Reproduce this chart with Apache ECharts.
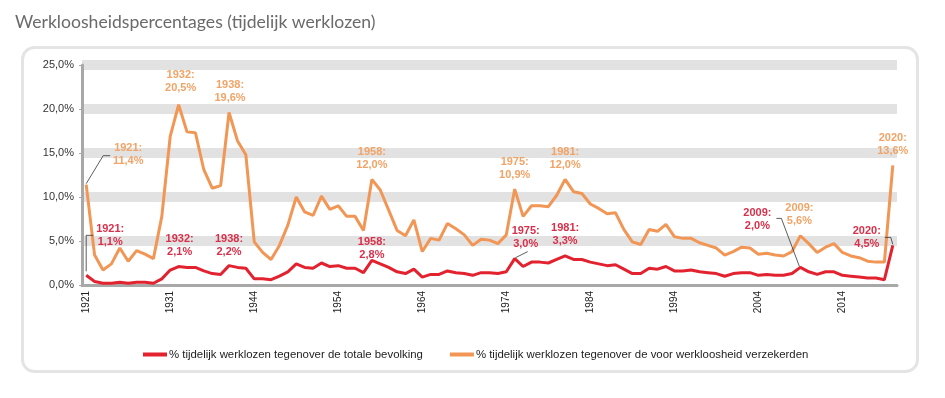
<!DOCTYPE html>
<html><head><meta charset="utf-8">
<script src="https://cdn.jsdelivr.net/npm/echarts@6/dist/echarts.min.js"></script>
<style>html,body{margin:0;padding:0;background:#fff}#c{width:945px;height:398px}</style>
</head><body><div id="c"></div>
<script>
const titleText = 'Werkloosheidspercentages (tijdelijk werklozen)';
const seriesNames = ['% tijdelijk werklozen tegenover de totale bevolking', '% tijdelijk werklozen tegenover de voor werkloosheid verzekerden'];
const years = ['1921','1922','1923','1924','1925','1926','1927','1928','1929','1930',
 '1931','1932','1933','1934','1935','1936','1937','1938','1939','1940',
 '1944','1945','1946','1947','1948','1949','1950','1951','1952','1953',
 '1954','1955','1956','1957','1958','1959','1960','1961','1962','1963',
 '1964','1965','1966','1967','1968','1969','1970','1971','1972','1973',
 '1974','1975','1976','1977','1978','1979','1980','1981','1982','1983',
 '1984','1985','1986','1987','1988','1989','1990','1991','1992','1993',
 '1994','1995','1996','1997','1998','1999','2000','2001','2002','2003',
 '2004','2005','2006','2007','2008','2009','2010','2011','2012','2013',
 '2014','2015','2016','2017','2018','2019','2020'];
const totalPop = [1.1,0.4,0.2,0.2,0.3,0.2,0.3,0.3,0.2,0.7,
 1.7,2.1,2.0,2.0,1.6,1.3,1.2,2.2,2.0,1.9,
 0.7,0.7,0.6,1.0,1.5,2.4,2.0,1.9,2.5,2.1,
 2.2,1.9,1.9,1.4,2.8,2.4,2.0,1.5,1.3,1.8,
 0.9,1.2,1.2,1.6,1.4,1.3,1.1,1.4,1.4,1.3,
 1.5,3.0,2.1,2.6,2.6,2.5,2.9,3.3,2.9,2.9,
 2.6,2.4,2.2,2.3,1.8,1.3,1.3,1.9,1.8,2.1,
 1.6,1.6,1.7,1.5,1.4,1.3,1.0,1.3,1.4,1.4,
 1.1,1.2,1.1,1.1,1.3,2.0,1.5,1.2,1.5,1.5,
 1.1,1.0,0.9,0.8,0.8,0.6,4.5];
const insured = [11.4,3.4,1.7,2.4,4.2,2.7,3.9,3.5,3.0,7.8,
 16.9,20.5,17.4,17.3,13.1,11.0,11.3,19.6,16.4,14.8,
 4.9,3.7,2.9,4.5,6.8,10.0,8.3,7.9,10.1,8.6,
 9.0,7.8,7.8,6.2,12.0,10.8,8.5,6.2,5.6,7.4,
 3.8,5.3,5.1,7.0,6.4,5.7,4.5,5.2,5.1,4.7,
 5.7,10.9,7.8,9.0,9.0,8.9,10.2,12.0,10.6,10.4,
 9.2,8.7,8.1,8.2,6.3,4.9,4.6,6.3,6.1,6.9,
 5.5,5.3,5.3,4.8,4.5,4.2,3.4,3.8,4.3,4.2,
 3.5,3.6,3.4,3.3,3.8,5.6,4.7,3.7,4.3,4.7,
 3.7,3.3,3.1,2.7,2.6,2.6,13.6];
const yTicks = [0,5,10,15,20,25];
const insuredNotes = ['1921','1932','1938','1958','1975','1981','2009','2020'];
const totalNotes = ['1921','1932','1938','1958','1975','1981','2009','2020'];

const C_RED = '#e3222f', C_ORA = '#f29656';
const T_RED = '#d8304a', T_ORA = '#f2a366';
const fmt = v => v.toFixed(1).replace('.', ',');

const chart = echarts.init(document.getElementById('c'), null, {renderer: 'canvas'});
chart.setOption({
  animation: false,
  backgroundColor: '#fff',
  grid: {left: 82, right: 48, top: 65, bottom: 113},
  legend: {
    left: 138, top: 344, itemWidth: 24, itemHeight: 4, itemGap: 27,
    icon: 'rect',
    textStyle: {fontFamily: '"Liberation Sans",Arial', fontSize: 11.4, color: '#222', padding: [0,0,0,-3]},
    data: seriesNames
  },
  xAxis: {
    type: 'category', data: years, boundaryGap: true,
    axisLine: {lineStyle: {color: '#a8a8a8', width: 3}},
    axisTick: {interval: 0, length: 4, lineStyle: {color: '#a8a8a8', width: 1}},
    axisLabel: {interval: 9, rotate: 90, fontFamily: '"Liberation Sans",Arial', fontSize: 10, color: '#222', margin: 6}
  },
  yAxis: {
    type: 'value', min: yTicks[0], max: yTicks[yTicks.length-1], interval: 5,
    axisLine: {show: true, lineStyle: {color: '#a8a8a8', width: 3}},
    axisTick: {show: true, length: 3, lineStyle: {color: '#a8a8a8'}},
    axisLabel: {formatter: v => fmt(v) + '%', fontFamily: '"Liberation Sans",Arial', fontSize: 11, color: '#333', margin: 8},
    splitLine: {show: true, lineStyle: {width: 10, color: ['rgba(0,0,0,0)','#e2e2e2','#e2e2e2','#e2e2e2','#e2e2e2','#e2e2e2']}}
  },
  series: [
    {name: seriesNames[0], type: 'line', data: totalPop, symbol: 'none', z: 4,
     lineStyle: {color: C_RED, width: 3}, itemStyle: {color: C_RED}},
    {name: seriesNames[1], type: 'line', data: insured, symbol: 'none', z: 3,
     lineStyle: {color: C_ORA, width: 3}, itemStyle: {color: C_ORA}}
  ]
});

const oraLayout = {
  '1921': {dx: 42, dy: -30, leader: [[0,-1],[17,-29],[24,-29]]},
  '1932': {dx: 2, dy: -23}, '1938': {dx: 1, dy: -21}, '1958': {dx: 0, dy: -21},
  '1975': {dx: 0, dy: -21}, '1981': {dx: 0, dy: -21}, '2009': {dx: -1, dy: -21}, '2020': {dx: 0, dy: -21}
};
const redLayout = {
  '1921': {dx: 24, dy: -40, leader: [[0,-4],[0,-40],[7,-40]]},
  '1932': {dx: 1, dy: -21}, '1938': {dx: 0, dy: -20}, '1958': {dx: 0, dy: -12},
  '1975': {dx: 11, dy: -21, leader: [[1,-1],[13,-7]]},
  '1981': {dx: 0, dy: -21},
  '2009': {dx: -43, dy: -48, leader: [[-1,-1],[-19,-49],[-24,-49]]},
  '2020': {dx: -26, dy: -8, leader: [[-8,-8],[-2,-8],[0,-1]]}
};
const graphics = [];
graphics.push({type: 'rect', left: 20, top: 45, shape: {width: 895, height: 324, r: 12},
  style: {fill: 'none', stroke: '#e4e4e4', lineWidth: 3}, silent: true, z: -10});
graphics.push({type: 'text', left: 15, top: 13, style: {text: titleText, font: '17.6px Lato, "Open Sans", sans-serif', fill: '#6a6a6a'}});
function addNotes(list, data, layout, color) {
  list.forEach(y => {
    const i = years.indexOf(y);
    const p = chart.convertToPixel({gridIndex: 0}, [y, data[i]]);
    const L = layout[y];
    graphics.push({type: 'text', x: p[0] + L.dx, y: p[1] + L.dy, z: 10,
      style: {text: y + ':\n' + fmt(data[i]) + '%', font: 'bold 11px "Liberation Sans", Arial', fill: color,
        textAlign: 'center', textVerticalAlign: 'middle', lineHeight: 13}});
    if (L.leader) {
      graphics.push({type: 'polyline', z: 10, shape: {points: L.leader.map(q => [p[0] + q[0], p[1] + q[1]])},
        style: {stroke: '#333', lineWidth: 0.8, fill: 'none'}});
    }
  });
}
addNotes(insuredNotes, insured, oraLayout, T_ORA);
addNotes(totalNotes, totalPop, redLayout, T_RED);
chart.setOption({graphic: graphics});
</script></body></html>
